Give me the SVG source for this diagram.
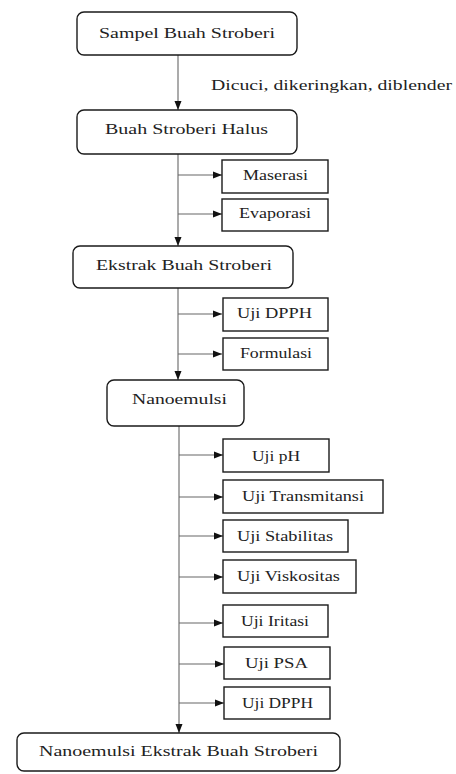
<svg xmlns="http://www.w3.org/2000/svg" width="456" height="774" viewBox="0 0 456 774">
<style>
.main{fill:#fff;stroke:#1a1a1a;stroke-width:1.4}
.sub{fill:#fff;stroke:#1a1a1a;stroke-width:1.4}
.t{font-family:"Liberation Serif","Times New Roman",serif;fill:#222;font-size:15px}
.s{font-family:"Liberation Serif","Times New Roman",serif;fill:#222;font-size:14px}
.c{fill:none;stroke:#666;stroke-width:1.1}
</style>
<defs>
<marker id="ah" markerUnits="userSpaceOnUse" markerWidth="10" markerHeight="8" refX="9" refY="4" orient="auto">
<path d="M0,0.5 L9,4 L0,7.5 Z" fill="#111"/>
</marker>
</defs>
<rect width="456" height="774" fill="#fff"/>
<g id="connectors">
<path class="c" d="M178,55 V110" marker-end="url(#ah)"/>
<path class="c" d="M178,154 V246" marker-end="url(#ah)"/>
<path class="c" d="M178,288 V380" marker-end="url(#ah)"/>
<path class="c" d="M179,426 V733" marker-end="url(#ah)"/>
<path class="c" d="M178,175 H222" marker-end="url(#ah)"/>
<path class="c" d="M178,214 H222" marker-end="url(#ah)"/>
<path class="c" d="M178,314 H222" marker-end="url(#ah)"/>
<path class="c" d="M178,354 H222" marker-end="url(#ah)"/>
<path class="c" d="M179,455 H223" marker-end="url(#ah)"/>
<path class="c" d="M179,497 H223" marker-end="url(#ah)"/>
<path class="c" d="M179,536 H223" marker-end="url(#ah)"/>
<path class="c" d="M179,577 H223" marker-end="url(#ah)"/>
<path class="c" d="M179,623 H223" marker-end="url(#ah)"/>
<path class="c" d="M179,664 H224" marker-end="url(#ah)"/>
<path class="c" d="M179,703 H224" marker-end="url(#ah)"/>
<text class="t" x="211" y="90" textLength="241" lengthAdjust="spacingAndGlyphs">Dicuci, dikeringkan, diblender</text>
</g>
<g id="n1"><rect class="main" x="77" y="12" width="220" height="43" rx="7"/><text class="t" x="99" y="38" textLength="176" lengthAdjust="spacingAndGlyphs">Sampel Buah Stroberi</text></g>
<g id="n2"><rect class="main" x="77" y="110" width="220" height="44" rx="7"/><text class="t" x="105" y="134" textLength="163" lengthAdjust="spacingAndGlyphs">Buah Stroberi Halus</text></g>
<g id="n_maserasi"><rect class="sub" x="222" y="160" width="106" height="33"/><text class="s" x="243" y="180" textLength="65" lengthAdjust="spacingAndGlyphs">Maserasi</text></g>
<g id="n_evaporasi"><rect class="sub" x="222" y="199" width="106" height="32"/><text class="s" x="239" y="218" textLength="72" lengthAdjust="spacingAndGlyphs">Evaporasi</text></g>
<g id="n3"><rect class="main" x="73" y="246" width="220" height="42" rx="7"/><text class="t" x="96" y="270" textLength="176" lengthAdjust="spacingAndGlyphs">Ekstrak Buah Stroberi</text></g>
<g id="n_dpph1"><rect class="sub" x="223" y="298" width="105" height="33"/><text class="s" x="237" y="318" textLength="75" lengthAdjust="spacingAndGlyphs">Uji DPPH</text></g>
<g id="n_formulasi"><rect class="sub" x="223" y="338" width="105" height="32"/><text class="s" x="240" y="358" textLength="72" lengthAdjust="spacingAndGlyphs">Formulasi</text></g>
<g id="n4"><rect class="main" x="107" y="380" width="137" height="46" rx="7"/><text class="t" x="132" y="404" textLength="95" lengthAdjust="spacingAndGlyphs">Nanoemulsi</text></g>
<g id="n_ph"><rect class="sub" x="223" y="439" width="106" height="33"/><text class="s" x="252" y="461" textLength="48" lengthAdjust="spacingAndGlyphs">Uji pH</text></g>
<g id="n_trans"><rect class="sub" x="223" y="480" width="160" height="33"/><text class="s" x="242" y="501" textLength="122" lengthAdjust="spacingAndGlyphs">Uji Transmitansi</text></g>
<g id="n_stab"><rect class="sub" x="223" y="520" width="125" height="32"/><text class="s" x="237" y="541" textLength="96" lengthAdjust="spacingAndGlyphs">Uji Stabilitas</text></g>
<g id="n_visk"><rect class="sub" x="223" y="560" width="133" height="33"/><text class="s" x="237" y="581" textLength="103" lengthAdjust="spacingAndGlyphs">Uji Viskositas</text></g>
<g id="n_iritasi"><rect class="sub" x="223" y="605" width="105" height="32"/><text class="s" x="241" y="626" textLength="68" lengthAdjust="spacingAndGlyphs">Uji Iritasi</text></g>
<g id="n_psa"><rect class="sub" x="224" y="647" width="106" height="32"/><text class="s" x="245" y="668" textLength="63" lengthAdjust="spacingAndGlyphs">Uji PSA</text></g>
<g id="n_dpph2"><rect class="sub" x="224" y="687" width="106" height="32"/><text class="s" x="242" y="708" textLength="71" lengthAdjust="spacingAndGlyphs">Uji DPPH</text></g>
<g id="n5"><rect class="main" x="17" y="733" width="323" height="38" rx="7"/><text class="t" x="39" y="756" textLength="279" lengthAdjust="spacingAndGlyphs">Nanoemulsi Ekstrak Buah Stroberi</text></g>
</svg>
